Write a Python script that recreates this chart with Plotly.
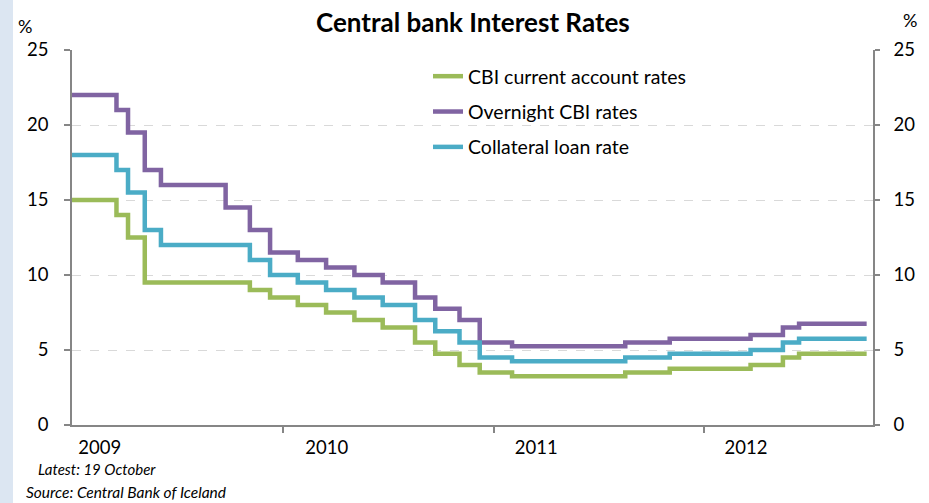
import plotly.graph_objects as go

# ---- data ----
change_dates = ["2009-01-01", "2009-03-19", "2009-04-08", "2009-05-07", "2009-06-04",
                "2009-09-24", "2009-11-05", "2009-12-10", "2010-01-27", "2010-03-17",
                "2010-05-05", "2010-06-23", "2010-08-18", "2010-09-22", "2010-11-03",
                "2010-12-08", "2011-02-02", "2011-08-17", "2011-11-02", "2012-03-21",
                "2012-05-16", "2012-06-13", "2012-10-08"]
current_account = [15, 14, 12.5, 9.5, 9.5, 9.5, 9, 8.5, 8, 7.5, 7, 6.5, 5.5, 4.75, 4,
                   3.5, 3.25, 3.5, 3.75, 4, 4.5, 4.75, 4.75]
overnight = [22, 21, 19.5, 17, 16, 14.5, 13, 11.5, 11, 10.5, 10, 9.5, 8.5, 7.75, 7,
             5.5, 5.25, 5.5, 5.75, 6, 6.5, 6.75, 6.75]
collateral = [18, 17, 15.5, 13, 12, 12, 11, 10, 9.5, 9, 8.5, 8, 7, 6.25, 5.5,
              4.5, 4.25, 4.5, 4.75, 5, 5.5, 5.75, 5.75]

series_names = ["CBI current account rates", "Overnight CBI rates", "Collateral loan rate"]
series_values = [current_account, overnight, collateral]
series_colors = ["#9BBB59", "#8064A2", "#4BACC6"]

year_label_dates = ["2009-02-18", "2010-03-18", "2011-03-16", "2012-03-13"]
year_labels = ["2009", "2010", "2011", "2012"]
year_tick_dates = ["2010-01-01", "2011-01-01", "2012-01-01"]
x_range = ["2009-01-01", "2012-10-19"]
y_ticks = [0, 5, 10, 15, 20, 25]

FONT = "Lato"

fig = go.Figure()
for i, (name, vals, col) in enumerate(zip(series_names, series_values, series_colors)):
    fig.add_trace(go.Scatter(
        x=change_dates, y=vals, name=name, mode="lines",
        line=dict(color=col, width=4.5, shape="hv"),
        legendgroup=f"g{i}", hoverinfo="skip"))

# invisible trace to make the right axis render
fig.add_trace(go.Scatter(x=[change_dates[0]], y=[0], yaxis="y2", mode="markers",
                         marker=dict(opacity=0), showlegend=False, hoverinfo="skip"))

W, H = 929, 503
L, R, T, B = 72, 56, 50, 78
pw, ph = W - L - R, H - T - B


def px(x):
    return (x - L) / pw


def py(y):
    return (H - B - y) / ph


fig.update_layout(
    width=W, height=H,
    margin=dict(l=L, r=R, t=T, b=B),
    paper_bgcolor="white", plot_bgcolor="white",
    font=dict(family=FONT, size=18, color="black"),
    showlegend=True,
    legend=dict(x=px(428), y=py(57), xanchor="left", yanchor="top",
                bgcolor="rgba(0,0,0,0)", font=dict(size=19.5, family=FONT),
                traceorder="grouped", tracegroupgap=7, itemwidth=30),
    xaxis=dict(type="date", range=x_range, showgrid=False,
               showline=True, linecolor="#868686", linewidth=1.5,
               tickmode="array", tickvals=year_label_dates, ticktext=year_labels,
               ticks="", ticklabelstandoff=5,
               tickfont=dict(size=18.5, family=FONT),
               minor=dict(tickmode="array", tickvals=year_tick_dates, ticks="outside",
                          ticklen=6, tickcolor="#868686", tickwidth=1.5, showgrid=False),
               zeroline=False),
    yaxis=dict(range=[0, 25], tickvals=y_ticks, showgrid=True, gridcolor="#d9d9d9",
               griddash="dash", gridwidth=1.2, zeroline=False,
               showline=True, linecolor="#868686", linewidth=1.5,
               ticks="outside", ticklen=6, tickcolor="#868686", tickwidth=1.5,
               ticklabelstandoff=12, tickfont=dict(size=18.5, family=FONT)),
    yaxis2=dict(range=[0, 25], tickvals=y_ticks, overlaying="y", side="right",
                showgrid=False, zeroline=False,
                showline=True, linecolor="#868686", linewidth=1.5,
                ticks="outside", ticklen=5, tickcolor="#868686", tickwidth=1.5,
                ticklabelstandoff=10, tickfont=dict(size=18.5, family=FONT)),
)

# left light-blue strip
fig.add_shape(type="rect", xref="paper", yref="paper",
              x0=px(0), x1=px(13), y0=py(H), y1=py(0),
              fillcolor="#dce6f2", line_width=0, layer="below")

annos = [
    dict(text="<b>Central bank Interest Rates</b>", x=px(473), y=py(22), size=26),
    dict(text="%", x=px(25), y=py(26), size=18),
    dict(text="%", x=px(910), y=py(20), size=18),
]
for a in annos:
    fig.add_annotation(text=a["text"], xref="paper", yref="paper", x=a["x"], y=a["y"],
                       xanchor="center", yanchor="middle", showarrow=False,
                       font=dict(size=a["size"], family=FONT, color="black"))

fig.add_annotation(text="<i>Latest: 19 October</i>", xref="paper", yref="paper",
                   x=px(36), y=py(469), xanchor="left", yanchor="middle", showarrow=False,
                   font=dict(size=15, family=FONT, color="black"))
fig.add_annotation(text="<i>Source: Central Bank of Iceland</i>", xref="paper", yref="paper",
                   x=px(24), y=py(492), xanchor="left", yanchor="middle", showarrow=False,
                   font=dict(size=15.5, family=FONT, color="black"))

fig.write_html("out.html")
